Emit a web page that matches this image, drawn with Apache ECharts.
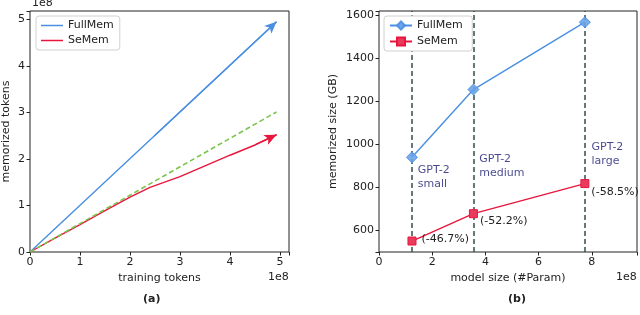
<!DOCTYPE html>
<html><head><meta charset="utf-8">
<script src="https://cdn.jsdelivr.net/npm/echarts@6/dist/echarts.min.js"></script>
<style>html,body{margin:0;padding:0;background:#fff}#c{width:640px;height:315px}</style>
</head><body><div id="c"></div>
<script>
// ---- data (a): training tokens vs memorized tokens, units of 1e8 ----
const fullMemA = [[0, 0], [2.5, 2.51], [4.93, 4.95]];
const seMemA = [[0, 0], [0.5, 0.3], [1, 0.59], [1.5, 0.89], [2, 1.18], [2.4, 1.39], [3, 1.62], [3.5, 1.85], [4, 2.08], [4.5, 2.3], [4.93, 2.52]];
const refLineA = [[0, 0], [4.93, 3.01]];
// ---- data (b): model size (1e8 params) vs memorized size (GB) ----
const modelSizes = [1.24, 3.55, 7.74];
const modelNames = ['GPT-2\nsmall', 'GPT-2\nmedium', 'GPT-2\nlarge'];
const fullMemB = [940, 1255, 1568];
const seMemB = [551, 678, 818];
const reductionLabels = ['(-46.7%)', '(-52.2%)', '(-58.5%)'];
const modelNotePos = [[1.46, 915], [3.77, 966], [7.99, 1018]];

const FONT = 'DejaVu Sans';
const FS = 11;
const BLUE = '#4a8fe2', RED = '#e8163c', GREEN = '#7bc44c';
const axisCommon = {
  axisLine: {show: false},
  axisTick: {show: true, length: 3.5, lineStyle: {color: '#222'}},
  axisLabel: {color: '#222', fontFamily: FONT, fontSize: FS, margin: 5},
  splitLine: {show: false},
  nameTextStyle: {color: '#222', fontFamily: FONT, fontSize: FS},
  nameLocation: 'middle'
};
const intFmt = v => (Math.abs(v - Math.round(v)) < 1e-6 ? String(Math.round(v)) : '');
const arrowSeg = (arr) => [{coord: arr[arr.length - 2]}, {coord: arr[arr.length - 1]}];
const legendBox = {orient: 'vertical', itemWidth: 22, padding: [4, 6, 4, 5], borderColor: '#d0d0d0', borderWidth: 1,
  borderRadius: 3, backgroundColor: '#fff', textStyle: {fontFamily: FONT, fontSize: FS, color: '#222'}, selectedMode: false};

const chart = echarts.init(document.getElementById('c'), null, {renderer: 'canvas'});
chart.setOption({
  animation: false,
  backgroundColor: '#fff',
  grid: [
    {left: 30, top: 11, width: 259, height: 241, show: true, borderColor: '#222', borderWidth: 1, containLabel: false},
    {left: 379, top: 11, width: 259, height: 241, show: true, borderColor: '#222', borderWidth: 1, containLabel: false}
  ],
  xAxis: [
    Object.assign({}, axisCommon, {type: 'value', gridIndex: 0, min: 0, max: 5.18, interval: 1,
      name: 'training tokens', nameGap: 21, axisLabel: Object.assign({}, axisCommon.axisLabel, {formatter: intFmt})}),
    Object.assign({}, axisCommon, {type: 'value', gridIndex: 1, min: 0, max: 9.7, interval: 2,
      name: 'model size (#Param)', nameGap: 21, axisLabel: Object.assign({}, axisCommon.axisLabel, {formatter: v => (Math.abs(v % 2) < 1e-6 ? String(v) : '')})})
  ],
  yAxis: [
    Object.assign({}, axisCommon, {type: 'value', gridIndex: 0, min: 0, max: 5.18, interval: 1,
      name: 'memorized tokens', nameGap: 18, axisLabel: Object.assign({}, axisCommon.axisLabel, {formatter: intFmt})}),
    Object.assign({}, axisCommon, {type: 'value', gridIndex: 1, min: 500, max: 1620, splitNumber: 5,
      name: 'memorized size (GB)', nameGap: 40, axisLabel: Object.assign({}, axisCommon.axisLabel, {formatter: v => (v % 200 === 0 ? String(v) : '')})})
  ],
  legend: [
    Object.assign({}, legendBox, {left: 36, top: 16, itemHeight: 1.5, itemGap: 4, icon: 'rect',
      data: ['FullMem', 'SeMem']}),
    Object.assign({}, legendBox, {left: 384, top: 16, itemHeight: 10, itemGap: 5, itemWidth: 22,
      data: ['FullMem ', 'SeMem ']})
  ],
  graphic: [
    {type: 'text', left: 32, top: -2, style: {text: '1e8', font: FS + 'px "DejaVu Sans"', fill: '#222'}},
    {type: 'text', left: 268, top: 272, style: {text: '1e8', font: FS + 'px "DejaVu Sans"', fill: '#222'}},
    {type: 'text', left: 616, top: 272, style: {text: '1e8', font: FS + 'px "DejaVu Sans"', fill: '#222'}},
    {type: 'text', left: 143, top: 294, style: {text: '(a)', font: 'bold 11px "DejaVu Sans"', fill: '#222'}},
    {type: 'text', left: 508, top: 294, style: {text: '(b)', font: 'bold 11px "DejaVu Sans"', fill: '#222'}}
  ],
  series: [
    {name: 'FullMem', type: 'line', xAxisIndex: 0, yAxisIndex: 0, data: fullMemA, showSymbol: false, symbol: 'none',
      lineStyle: {color: BLUE, width: 1.4}, itemStyle: {color: BLUE},
      markLine: {silent: true, symbol: ['none', 'arrow'], symbolSize: [8, 12], label: {show: false},
        lineStyle: {color: BLUE, width: 1.4, type: 'solid'}, data: [arrowSeg(fullMemA)]}},
    {name: 'SeMem', type: 'line', xAxisIndex: 0, yAxisIndex: 0, data: seMemA, showSymbol: false, symbol: 'none',
      lineStyle: {color: RED, width: 1.4}, itemStyle: {color: RED},
      markLine: {silent: true, symbol: ['none', 'arrow'], symbolSize: [8, 12], label: {show: false},
        lineStyle: {color: RED, width: 1.4, type: 'solid'}, data: [arrowSeg(seMemA)]}},
    {name: 'ref', type: 'line', xAxisIndex: 0, yAxisIndex: 0, data: refLineA, showSymbol: false, symbol: 'none',
      lineStyle: {color: GREEN, width: 1.6, type: [5, 3]}},
    {name: 'FullMem ', type: 'line', xAxisIndex: 1, yAxisIndex: 1,
      data: modelSizes.map((x, i) => [x, fullMemB[i]]), symbol: 'diamond', symbolSize: 11,
      lineStyle: {color: BLUE, width: 1.4}, itemStyle: {color: '#6aa3e8', borderColor: BLUE, borderWidth: 1, opacity: 0.9},
      z: 3,
      markLine: {silent: true, symbol: 'none', label: {show: false}, z: 1,
        lineStyle: {color: '#2f4f4f', width: 1.5, type: [5, 3]},
        data: modelSizes.map(x => ({xAxis: x}))}},
    {name: 'SeMem ', type: 'line', xAxisIndex: 1, yAxisIndex: 1,
      data: modelSizes.map((x, i) => ({value: [x, seMemB[i]],
        label: {offset: [[0, -2], [-3, 7], [-3, 9]][i]}})),
      symbol: 'rect', symbolSize: 8, z: 3,
      lineStyle: {color: RED, width: 1.4}, itemStyle: {color: '#ea3a5e', borderColor: RED, borderWidth: 1},
      label: {show: true, position: 'right', distance: 5, color: '#222', fontFamily: FONT, fontSize: FS,
        formatter: p => reductionLabels[p.dataIndex]}},
    {name: 'notes', type: 'scatter', xAxisIndex: 1, yAxisIndex: 1, symbolSize: 0, silent: true,
      data: modelNotePos,
      label: {show: true, position: 'right', distance: 0, align: 'left', verticalAlign: 'top',
        color: '#191970', fontFamily: FONT, fontSize: FS, lineHeight: 14,
        formatter: p => modelNames[p.dataIndex]}}
  ]
});
</script></body></html>
